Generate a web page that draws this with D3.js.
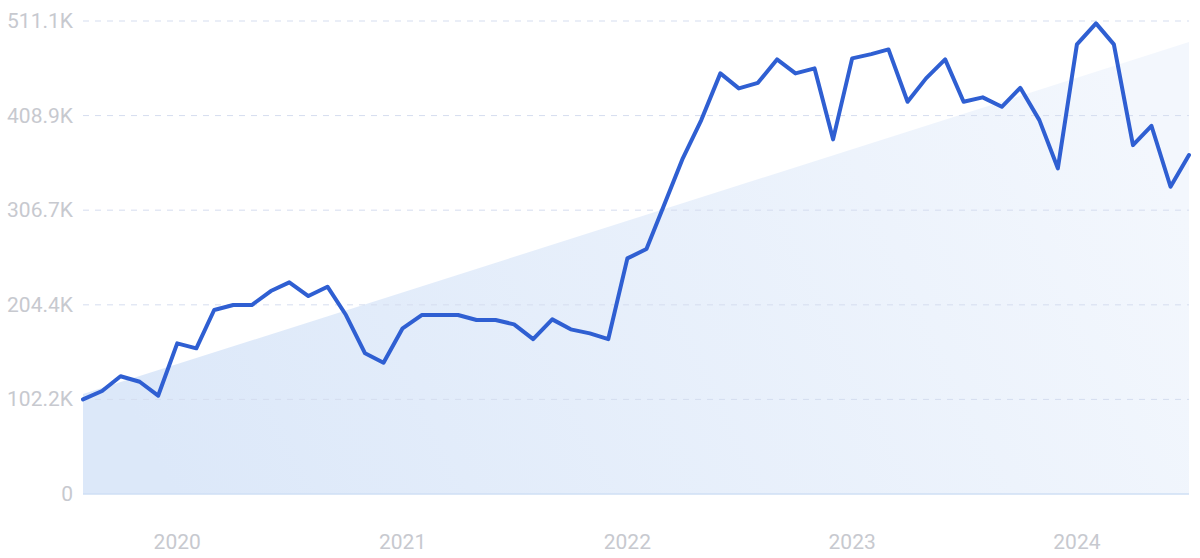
<!DOCTYPE html>
<html lang="en">
<head>
<meta charset="UTF-8">
<title>Trend</title>
<script src="https://cdn.jsdelivr.net/npm/d3@7"></script>
<style>
    html, body { margin: 0; padding: 0; background: #fff; }
    svg { display: block; }
    .lbl { font-family: Roboto, "DejaVu Sans", sans-serif; font-size: 21px; fill: #c7c9cf; }
</style>
</head>
<body>
<script>
    // monthly values, thousands, Aug 2019 .. Jul 2024
    var values = [102.3, 111.3, 127.2, 121.3, 106.2, 162.8, 157.4, 198.8, 204.2, 204.2,
                  219.3, 228.7, 213.9, 224.0, 193.4, 152.0, 141.8, 179.0, 193.4, 193.4,
                  193.4, 188.0, 188.0, 183.3, 167.4, 188.7, 177.9, 173.6, 167.4, 254.6,
                  264.7, 311.1, 362.7, 404.0, 454.5, 438.3, 444.3, 469.6, 454.5, 459.9,
                  383.2, 470.7, 475.3, 480.4, 423.8, 449.1, 469.6, 423.8, 428.6, 418.4,
                  438.9, 404.0, 351.9, 485.8, 508.5, 485.8, 377.0, 397.9, 332.0, 366.2];
    var months = d3.timeMonth.range(new Date(2019, 7, 1), new Date(2024, 7, 1));
    // trend line at first and last month
    var trend = [108.0, 488.3];
    var yTicks = [0, 102.2, 204.4, 306.7, 408.9, 511.1];
    var yLabels = ["0", "102.2K", "204.4K", "306.7K", "408.9K", "511.1K"];
    var xYears = [2020, 2021, 2022, 2023, 2024];

    var W = 1200, H = 558;
    var m = { left: 83, right: 1189, top: 21, bottom: 494 };

    var svg = d3.select('body').append('svg').attr('width', W).attr('height', H);

    var x = d3.scaleTime().domain([months[0], months[months.length - 1]]).range([m.left, m.right]);
    var y = d3.scaleLinear().domain([0, 511.1]).range([m.bottom, m.top]);

    var defs = svg.append('defs');
    var grad = defs.append('linearGradient').attr('id', 'trendFill')
        .attr('x1', '0%').attr('y1', '60%').attr('x2', '100%').attr('y2', '40%');
    grad.append('stop').attr('offset', '0%').attr('stop-color', '#dce8f9');
    grad.append('stop').attr('offset', '100%').attr('stop-color', '#f3f7fd');

    // trend area
    var tpts = [[months[0], trend[0]], [months[months.length - 1], trend[1]]];
    var area = d3.area().x(function (d) { return x(d[0]); }).y0(y(0)).y1(function (d) { return y(d[1]); });
    svg.append('path').datum(tpts).attr('d', area).attr('fill', 'url(#trendFill)');

    // grid
    svg.append('g').selectAll('line').data(yTicks.slice(1)).enter().append('line')
        .attr('x1', m.left).attr('x2', m.right)
        .attr('y1', function (d) { return y(d); }).attr('y2', function (d) { return y(d); })
        .attr('stroke', '#d5ddef').attr('stroke-width', 1).attr('stroke-dasharray', '6,6');

    // baseline
    svg.append('line').attr('x1', m.left).attr('x2', m.right).attr('y1', y(0)).attr('y2', y(0))
        .attr('stroke', '#cfdff4').attr('stroke-width', 1.5);

    // y labels
    svg.append('g').selectAll('text').data(yTicks).enter().append('text')
        .attr('class', 'lbl').attr('x', 73).attr('y', function (d) { return y(d); })
        .attr('text-anchor', 'end').attr('dominant-baseline', 'central')
        .text(function (d, i) { return yLabels[i]; });

    // x labels
    svg.append('g').selectAll('text').data(xYears).enter().append('text')
        .attr('class', 'lbl').attr('x', function (d) { return x(new Date(d, 0, 1)); }).attr('y', 542)
        .attr('text-anchor', 'middle').attr('dominant-baseline', 'central')
        .text(function (d) { return d; });

    // line
    var line = d3.line().x(function (d, i) { return x(months[i]); }).y(function (d) { return y(d); });
    svg.append('path').datum(values).attr('d', line).attr('fill', 'none')
        .attr('stroke', '#2f5fd2').attr('stroke-width', 4)
        .attr('stroke-linejoin', 'round').attr('stroke-linecap', 'round');
</script>
</body>
</html>
